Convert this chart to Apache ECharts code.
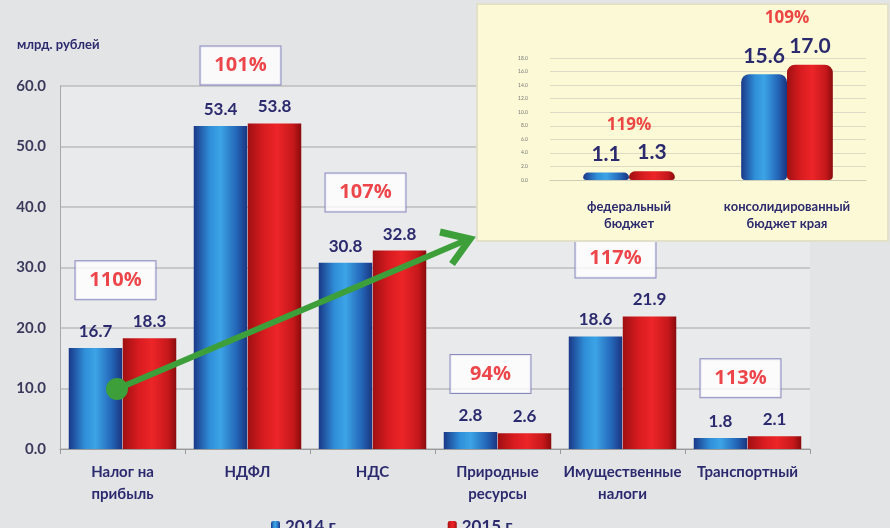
<!DOCTYPE html>
<html><head><meta charset="utf-8">
<script src="https://cdn.jsdelivr.net/npm/echarts@6/dist/echarts.min.js"></script>
<style>html,body{margin:0;padding:0;background:#e3e4e6}#c{width:890px;height:528px}</style>
</head><body><div id="c"></div>
<script>
// Main chart data
var categories = ['Налог на\nприбыль', 'НДФЛ', 'НДС', 'Природные\nресурсы', 'Имущественные\nналоги', 'Транспортный'];
var values2014 = [16.7, 53.4, 30.8, 2.8, 18.6, 1.8];
var values2015 = [18.3, 53.8, 32.8, 2.6, 21.9, 2.1];
var growthPct = [110, 101, 107, 94, 117, 113];
var yTicks = [0, 10, 20, 30, 40, 50, 60];
// Inset chart data
var insetCategories = ['федеральный\nбюджет', 'консолидированный\nбюджет края'];
var inset2014 = [1.1, 15.6];
var inset2015 = [1.3, 17.0];
var insetPct = [119, 109];
var seriesNames = ['2014 г', '2015 г'];

var FONT = 'Lato, "Open Sans", sans-serif';
var PFONT = '"Open Sans", Lato, sans-serif';
var NAVY = '#2b2a6e';
var RED = '#e8181e';
var blueGrad = new echarts.graphic.LinearGradient(0, 0, 1, 0, [
  {offset: 0, color: '#1a3888'}, {offset: 0.3, color: '#2f8fd8'}, {offset: 0.5, color: '#3ca4e6'},
  {offset: 0.8, color: '#2466b8'}, {offset: 1, color: '#1a3580'}]);
var redGrad = new echarts.graphic.LinearGradient(0, 0, 1, 0, [
  {offset: 0, color: '#a01012'}, {offset: 0.3, color: '#d81c20'}, {offset: 0.55, color: '#ec2528'},
  {offset: 0.85, color: '#c5181b'}, {offset: 1, color: '#8a0b0d'}]);

var chart = echarts.init(document.getElementById('c'));
var boxData = growthPct.map(function (p, i) { return [i, Math.max(values2014[i], values2015[i]) + 9.6, p]; });
var insetBoxData = insetPct.map(function (p, i) { return [i, Math.max(inset2014[i], inset2015[i]) + 7, p]; });

var valueLabel = function (size) {
  return {show: true, position: 'top', distance: 8, color: NAVY, fontSize: size, fontWeight: 'bold', fontFamily: FONT,
          formatter: function (p) { return p.value.toFixed(1); }};
};

var option = {
  backgroundColor: '#e3e4e6',
  animation: false,
  textStyle: {fontFamily: FONT},
  title: {text: 'млрд. рублей', left: 12, top: 33, textStyle: {color: NAVY, fontSize: 13, fontWeight: 'bold', fontFamily: FONT}},
  legend: {
    data: seriesNames, left: 266, top: 513, itemGap: 112, itemWidth: 9, itemHeight: 11,
    textStyle: {color: NAVY, fontSize: 17, fontWeight: 'bold', fontFamily: FONT}
  },
  grid: [
    {left: 60, right: 80, top: 86, bottom: 79, show: true, backgroundColor: '#e9eaeb', borderWidth: 0},
    {left: 550, width: 316, top: 58, height: 122}
  ],
  graphic: [
    {type: 'rect', z: 50, shape: {x: 477, y: 4, width: 411, height: 237}, style: {fill: '#fcfad6', stroke: '#e2e0c8', lineWidth: 2}},
    {type: 'line', z: 60, shape: {x1: 117, y1: 389, x2: 464, y2: 241}, style: {stroke: '#3c9f3a', lineWidth: 6}},
    {type: 'polyline', z: 60, shape: {points: [[440, 232], [470, 239], [452, 264]]}, style: {stroke: '#3c9f3a', lineWidth: 7, fill: null, lineJoin: 'miter'}},
    {type: 'circle', z: 60, shape: {cx: 117, cy: 389, r: 11}, style: {fill: '#3c9f3a'}}
  ],
  xAxis: [
    {type: 'category', gridIndex: 0, data: categories,
     axisLine: {lineStyle: {color: '#9a9a9a'}}, axisTick: {show: true, length: 5, lineStyle: {color: '#9a9a9a'}},
     axisLabel: {color: NAVY, fontSize: 15, fontWeight: 'bold', margin: 12, lineHeight: 22, fontFamily: FONT, interval: 0}},
    {type: 'category', gridIndex: 1, data: insetCategories, z: 70,
     axisLine: {lineStyle: {color: '#cfcdb8'}}, axisTick: {show: false},
     axisLabel: {color: NAVY, fontSize: 13, fontWeight: 'bold', margin: 18, lineHeight: 17, fontFamily: FONT, interval: 0}}
  ],
  yAxis: [
    {type: 'value', gridIndex: 0, min: 0, max: 60, interval: 10,
     axisLine: {show: true, lineStyle: {color: '#a8a8a8'}}, axisTick: {show: false},
     splitLine: {lineStyle: {color: '#bdbdbd', width: 1.5}},
     axisLabel: {color: '#3a3a5c', fontSize: 15, fontWeight: 'bold', margin: 14, fontFamily: FONT,
                 formatter: function (v) { return v.toFixed(1); }}},
    {type: 'value', gridIndex: 1, min: 0, max: 18, interval: 2, z: 70,
     axisLine: {show: false}, axisTick: {show: false},
     splitLine: {lineStyle: {color: '#dcdac4'}},
     axisLabel: {color: '#777', fontSize: 5, margin: 22, formatter: function (v) { return v.toFixed(1); }}}
  ],
  series: [
    {name: seriesNames[0], type: 'bar', xAxisIndex: 0, yAxisIndex: 0, data: values2014,
     barGap: '1%', barCategoryGap: '14%', itemStyle: {color: blueGrad}, label: valueLabel(17)},
    {name: seriesNames[1], type: 'bar', xAxisIndex: 0, yAxisIndex: 0, data: values2015,
     barGap: '1%', barCategoryGap: '14%', itemStyle: {color: redGrad}, label: valueLabel(17)},
    {type: 'scatter', xAxisIndex: 0, yAxisIndex: 0, data: boxData, symbolSize: 1, clip: false, z: 20,
     itemStyle: {color: 'rgba(0,0,0,0)'},
     label: {show: true, position: 'inside', offset: [-7, 0], width: 80, height: 38, lineHeight: 38, align: 'center',
             backgroundColor: '#ffffff', borderColor: '#7272b4', borderWidth: 1,
             color: RED, fontSize: 20, fontWeight: 'bold', fontFamily: PFONT,
             formatter: function (p) { return p.value[2] + '%'; }}},
    {type: 'bar', xAxisIndex: 1, yAxisIndex: 1, data: inset2014, z: 70, barGap: '0%', barCategoryGap: '42%',
     itemStyle: {color: blueGrad, borderRadius: [8, 8, 4, 4]}, label: valueLabel(21)},
    {type: 'bar', xAxisIndex: 1, yAxisIndex: 1, data: inset2015, z: 70, barGap: '0%', barCategoryGap: '42%',
     itemStyle: {color: redGrad, borderRadius: [8, 8, 4, 4]}, label: valueLabel(21)},
    {type: 'scatter', xAxisIndex: 1, yAxisIndex: 1, data: insetBoxData, symbolSize: 1, clip: false, z: 70,
     itemStyle: {color: 'rgba(0,0,0,0)'},
     label: {show: true, position: 'inside', offset: [0, 1], color: RED, fontSize: 17, fontWeight: 'bold', fontFamily: PFONT,
             formatter: function (p) { return p.value[2] + '%'; }}}
  ]
};
chart.setOption(option);
</script></body></html>
